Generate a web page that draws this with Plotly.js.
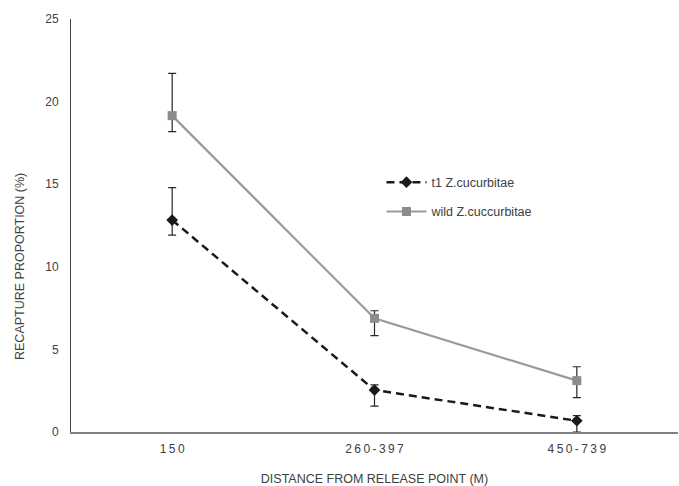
<!DOCTYPE html>
<html>
<head>
<meta charset="utf-8">
<script src="https://cdn.plot.ly/plotly-3.0.1.min.js"></script>
<style>html,body{margin:0;padding:0;background:#fff;}#chart{width:679px;height:486px;}</style>
</head>
<body>
<div id="chart"></div>
<script>
// Data
const categories = ['150', '260-397', '450-739'];
const t1Values = [12.83, 2.54, 0.68];
const t1ErrPlus = [1.96, 0.31, 0.31];
const t1ErrMinus = [0.91, 0.97, 0.68];
const wildValues = [19.15, 6.88, 3.11];
const wildErrPlus = [2.56, 0.46, 0.84];
const wildErrMinus = [0.97, 1.05, 1.03];
const seriesNames = ['t1 Z.cucurbitae', 'wild Z.cuccurbitae'];
const yTickVals = [0, 5, 10, 15, 20, 25];

const FONT = '"Liberation Sans", Arial, sans-serif';
const spaced = s => s.split('').join('\u2009');

const traces = [
  {
    x: categories, y: t1Values, name: seriesNames[0], type: 'scatter', mode: 'lines+markers',
    line: {color: '#1a1a1a', width: 2.5, dash: '8px,5px'},
    marker: {symbol: 'diamond', size: 9, color: '#1a1a1a'},
    error_y: {type: 'data', symmetric: false, array: t1ErrPlus, arrayminus: t1ErrMinus,
              color: '#262626', thickness: 1.2, width: 4},
    legend: 'legend'
  },
  {
    x: categories, y: wildValues, name: seriesNames[1], type: 'scatter', mode: 'lines+markers',
    line: {color: '#9a9a9a', width: 2.2},
    marker: {symbol: 'square', size: 9, color: '#8c8c8c'},
    error_y: {type: 'data', symmetric: false, array: wildErrPlus, arrayminus: wildErrMinus,
              color: '#262626', thickness: 1.2, width: 4},
    legend: 'legend2'
  }
];

const legendCommon = {
  bgcolor: 'rgba(0,0,0,0)', borderwidth: 0, itemwidth: 40,
  font: {family: FONT, size: 12.5, color: '#404040'},
  xanchor: 'left', yanchor: 'middle', xref: 'paper', yref: 'paper'
};

const layout = {
  width: 679, height: 486,
  margin: {l: 71, r: 1, t: 19, b: 54, pad: 0},
  paper_bgcolor: '#ffffff', plot_bgcolor: '#ffffff',
  font: {family: FONT, size: 12, color: '#404040'},
  showlegend: true,
  legend: Object.assign({x: 0.5115, y: 0.604}, legendCommon),
  legend2: Object.assign({x: 0.5115, y: 0.533}, legendCommon),
  xaxis: {
    type: 'category', range: [-0.5, 2.5],
    tickvals: categories, ticktext: categories.map(spaced),
    showgrid: false, zeroline: false, showline: true, linecolor: '#7f7f7f', linewidth: 2,
    ticks: '', ticklabelstandoff: 5,
    tickfont: {family: FONT, size: 12, color: '#404040'},
    title: {text: 'DISTANCE FROM RELEASE POINT (M)', font: {family: FONT, size: 12.5, color: '#404040'}, standoff: 29},
    fixedrange: true
  },
  yaxis: {
    range: [0, 25], tickvals: yTickVals,
    showgrid: false, zeroline: false, showline: true, linecolor: '#404040', linewidth: 1,
    ticks: '', ticklabelstandoff: 9,
    tickfont: {family: FONT, size: 12, color: '#404040'},
    fixedrange: true
  },
  annotations: [
    {text: 'RECAPTURE PROPORTION (%)', xref: 'paper', yref: 'paper',
     x: -71/607 + 20/607, y: (432 - 267) / 413, xanchor: 'center', yanchor: 'middle',
     textangle: -90, showarrow: false, font: {family: FONT, size: 12.5, color: '#404040'}}
  ]
};

Plotly.newPlot('chart', traces, layout, {displayModeBar: false, staticPlot: true});
</script>
</body>
</html>
